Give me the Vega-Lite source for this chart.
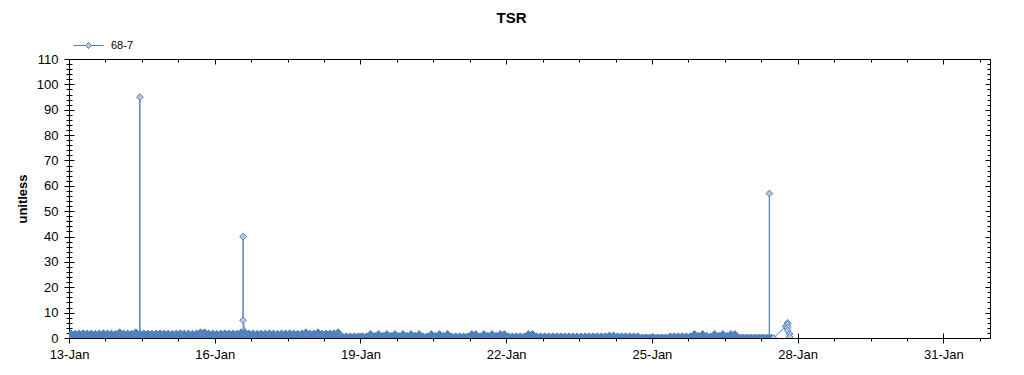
{
  "$schema": "https://vega.github.io/schema/vega-lite/v6.json",
  "autosize": {"type": "none"},
  "width": 921,
  "height": 279,
  "padding": {"left": 69, "top": 59, "right": 34, "bottom": 37},
  "background": "white",
  "title": {"text": "TSR", "font": "Liberation Sans", "fontSize": 15, "fontWeight": "bold", "color": "black", "anchor": "middle", "dx": -18, "offset": 4},
  "config": {
    "view": {"stroke": "black", "strokeWidth": 1},
    "axis": {"domainColor": "black", "tickColor": "black", "labelColor": "black", "grid": false, "labelFont": "Liberation Sans", "labelFontSize": 13, "domainWidth": 1, "tickWidth": 1}
  },
  "data": {
    "format": {"parse": {"t": "utc:'%d %H'"}},
    "values": [
{"t":"13 00","v":0.1},{"t":"13 01","v":1.8},{"t":"13 02","v":0.1},{"t":"13 03","v":1.7},{"t":"13 04","v":0.2},{"t":"13 05","v":1.8},{"t":"13 06","v":0.1},{"t":"13 07","v":1.9},{"t":"13 08","v":0.1},{"t":"13 09","v":1.8},{"t":"13 10","v":0.1},{"t":"13 11","v":1.8},{"t":"13 12","v":0.2},{"t":"13 13","v":1.7},{"t":"13 14","v":0.1},{"t":"13 15","v":1.8},{"t":"13 16","v":0.1},{"t":"13 17","v":1.9},{"t":"13 18","v":0.1},{"t":"13 19","v":1.8},{"t":"13 20","v":0.1},{"t":"13 21","v":1.8},{"t":"13 22","v":0.2},{"t":"13 23","v":1.7},
{"t":"14 00","v":0.1},{"t":"14 01","v":2.3},{"t":"14 02","v":0.1},{"t":"14 03","v":1.8},{"t":"14 04","v":0.1},{"t":"14 05","v":1.8},{"t":"14 06","v":0.2},{"t":"14 07","v":1.7},{"t":"14 08","v":0.1},{"t":"14 09","v":2.3},{"t":"14 10","v":0.1},{"t":"14 11","v":1.8},{"t":"14 11","v":95},{"t":"14 11","v":0.1},{"t":"14 12","v":0.1},{"t":"14 13","v":1.8},{"t":"14 14","v":0.2},{"t":"14 15","v":1.8},{"t":"14 16","v":0.1},{"t":"14 17","v":1.7},{"t":"14 18","v":0.1},{"t":"14 19","v":1.8},{"t":"14 20","v":0.1},{"t":"14 21","v":1.9},{"t":"14 22","v":0.1},{"t":"14 23","v":1.8},
{"t":"15 00","v":0.1},{"t":"15 01","v":1.8},{"t":"15 02","v":0.2},{"t":"15 03","v":1.7},{"t":"15 04","v":0.1},{"t":"15 05","v":1.8},{"t":"15 06","v":0.1},{"t":"15 07","v":1.9},{"t":"15 08","v":0.1},{"t":"15 09","v":1.8},{"t":"15 10","v":0.2},{"t":"15 11","v":1.8},{"t":"15 12","v":0.1},{"t":"15 13","v":1.7},{"t":"15 14","v":0.1},{"t":"15 15","v":1.8},{"t":"15 16","v":0.1},{"t":"15 17","v":2.3},{"t":"15 18","v":0.1},{"t":"15 19","v":2.3},{"t":"15 20","v":0.2},{"t":"15 21","v":1.8},{"t":"15 22","v":0.1},{"t":"15 23","v":1.8},
{"t":"16 00","v":0.1},{"t":"16 01","v":1.7},{"t":"16 02","v":0.1},{"t":"16 03","v":1.8},{"t":"16 04","v":0.2},{"t":"16 05","v":1.9},{"t":"16 06","v":0.1},{"t":"16 07","v":1.8},{"t":"16 08","v":0.1},{"t":"16 09","v":1.8},{"t":"16 10","v":0.1},{"t":"16 11","v":1.7},{"t":"16 12","v":0.2},{"t":"16 13","v":2.3},{"t":"16 14","v":0.1},{"t":"16 14","v":40},{"t":"16 14","v":7},{"t":"16 15","v":2.3},{"t":"16 16","v":0.1},{"t":"16 17","v":1.8},{"t":"16 18","v":0.1},{"t":"16 19","v":1.8},{"t":"16 20","v":0.2},{"t":"16 21","v":1.7},{"t":"16 22","v":0.1},{"t":"16 23","v":1.8},
{"t":"17 00","v":0.1},{"t":"17 01","v":1.8},{"t":"17 02","v":0.1},{"t":"17 03","v":1.9},{"t":"17 04","v":0.1},{"t":"17 05","v":1.8},{"t":"17 06","v":0.2},{"t":"17 07","v":1.7},{"t":"17 08","v":0.1},{"t":"17 09","v":1.8},{"t":"17 10","v":0.1},{"t":"17 11","v":1.8},{"t":"17 12","v":0.1},{"t":"17 13","v":1.9},{"t":"17 14","v":0.2},{"t":"17 15","v":1.8},{"t":"17 16","v":0.1},{"t":"17 17","v":1.7},{"t":"17 18","v":0.1},{"t":"17 19","v":1.8},{"t":"17 20","v":0.1},{"t":"17 21","v":2.3},{"t":"17 22","v":0.1},{"t":"17 23","v":1.8},
{"t":"18 00","v":0.2},{"t":"18 01","v":1.8},{"t":"18 02","v":0.1},{"t":"18 03","v":2.3},{"t":"18 04","v":0.1},{"t":"18 05","v":1.7},{"t":"18 06","v":0.1},{"t":"18 07","v":1.8},{"t":"18 08","v":0.2},{"t":"18 09","v":1.8},{"t":"18 10","v":0.1},{"t":"18 11","v":1.9},{"t":"18 12","v":0.1},{"t":"18 13","v":2.3},{"t":"18 14","v":0.1},{"t":"18 15","v":0.7},{"t":"18 16","v":0.1},{"t":"18 17","v":0.7},{"t":"18 18","v":0.1},{"t":"18 19","v":0.7},{"t":"18 20","v":0.1},{"t":"18 21","v":0.7},{"t":"18 22","v":0.1},{"t":"18 23","v":0.7},
{"t":"19 00","v":0.1},{"t":"19 01","v":0.7},{"t":"19 02","v":0.1},{"t":"19 03","v":0.7},{"t":"19 04","v":0.1},{"t":"19 05","v":1.6},{"t":"19 06","v":0.1},{"t":"19 07","v":0.9},{"t":"19 08","v":0.1},{"t":"19 09","v":1.6},{"t":"19 10","v":0.1},{"t":"19 11","v":0.9},{"t":"19 12","v":0.1},{"t":"19 13","v":1.6},{"t":"19 14","v":0.1},{"t":"19 15","v":0.9},{"t":"19 16","v":0.1},{"t":"19 17","v":1.6},{"t":"19 18","v":0.1},{"t":"19 19","v":0.9},{"t":"19 20","v":0.1},{"t":"19 21","v":1.6},{"t":"19 22","v":0.1},{"t":"19 23","v":0.9},
{"t":"20 00","v":0.1},{"t":"20 01","v":1.6},{"t":"20 02","v":0.1},{"t":"20 03","v":0.9},{"t":"20 04","v":0.1},{"t":"20 05","v":1.6},{"t":"20 06","v":0.1},{"t":"20 07","v":0.7},{"t":"20 08","v":0.1},{"t":"20 09","v":0.7},{"t":"20 10","v":0.1},{"t":"20 11","v":1.6},{"t":"20 12","v":0.1},{"t":"20 13","v":0.9},{"t":"20 14","v":0.1},{"t":"20 15","v":1.6},{"t":"20 16","v":0.1},{"t":"20 17","v":0.9},{"t":"20 18","v":0.1},{"t":"20 19","v":1.6},{"t":"20 20","v":0.1},{"t":"20 21","v":0.7},{"t":"20 22","v":0.1},{"t":"20 23","v":0.7},
{"t":"21 00","v":0.1},{"t":"21 01","v":0.7},{"t":"21 02","v":0.1},{"t":"21 03","v":0.7},{"t":"21 04","v":0.1},{"t":"21 05","v":0.7},{"t":"21 06","v":0.1},{"t":"21 07","v":1.6},{"t":"21 08","v":0.1},{"t":"21 09","v":1.6},{"t":"21 10","v":0.1},{"t":"21 11","v":0.7},{"t":"21 12","v":0.1},{"t":"21 13","v":1.6},{"t":"21 14","v":0.1},{"t":"21 15","v":0.9},{"t":"21 16","v":0.1},{"t":"21 17","v":1.6},{"t":"21 18","v":0.1},{"t":"21 19","v":0.9},{"t":"21 20","v":0.1},{"t":"21 21","v":1.6},{"t":"21 22","v":0.1},{"t":"21 23","v":1.6},
{"t":"22 00","v":0.1},{"t":"22 01","v":0.7},{"t":"22 02","v":0.1},{"t":"22 03","v":0.7},{"t":"22 04","v":0.1},{"t":"22 05","v":0.7},{"t":"22 06","v":0.1},{"t":"22 07","v":0.7},{"t":"22 08","v":0.1},{"t":"22 09","v":0.7},{"t":"22 10","v":0.1},{"t":"22 11","v":1.6},{"t":"22 12","v":0.1},{"t":"22 13","v":1.6},{"t":"22 14","v":0.1},{"t":"22 15","v":0.7},{"t":"22 16","v":0.1},{"t":"22 17","v":0.7},{"t":"22 18","v":0.1},{"t":"22 19","v":0.7},{"t":"22 20","v":0.1},{"t":"22 21","v":0.7},{"t":"22 22","v":0.1},{"t":"22 23","v":0.7},
{"t":"23 00","v":0.1},{"t":"23 01","v":0.7},{"t":"23 02","v":0.1},{"t":"23 03","v":0.7},{"t":"23 04","v":0.1},{"t":"23 05","v":0.7},{"t":"23 06","v":0.1},{"t":"23 07","v":0.7},{"t":"23 08","v":0.1},{"t":"23 09","v":0.7},{"t":"23 10","v":0.1},{"t":"23 11","v":0.7},{"t":"23 12","v":0.1},{"t":"23 13","v":0.7},{"t":"23 14","v":0.1},{"t":"23 15","v":0.7},{"t":"23 16","v":0.1},{"t":"23 17","v":0.7},{"t":"23 18","v":0.1},{"t":"23 19","v":0.7},{"t":"23 20","v":0.1},{"t":"23 21","v":0.7},{"t":"23 22","v":0.1},{"t":"23 23","v":0.7},
{"t":"24 00","v":0.1},{"t":"24 01","v":0.7},{"t":"24 02","v":0.1},{"t":"24 03","v":1.0},{"t":"24 04","v":0.1},{"t":"24 05","v":1.0},{"t":"24 06","v":0.1},{"t":"24 07","v":0.7},{"t":"24 08","v":0.1},{"t":"24 09","v":0.7},{"t":"24 10","v":0.1},{"t":"24 11","v":0.7},{"t":"24 12","v":0.1},{"t":"24 13","v":0.7},{"t":"24 14","v":0.1},{"t":"24 15","v":0.7},{"t":"24 16","v":0.1},{"t":"24 17","v":0.7},{"t":"24 18","v":0.1},{"t":"24 19","v":0.2},{"t":"24 20","v":0.1},{"t":"24 21","v":0.2},{"t":"24 22","v":0.1},{"t":"24 23","v":0.2},
{"t":"25 00","v":0.1},{"t":"25 01","v":0.2},{"t":"25 02","v":0.1},{"t":"25 03","v":0.2},{"t":"25 04","v":0.1},{"t":"25 05","v":0.2},{"t":"25 06","v":0.1},{"t":"25 07","v":0.2},{"t":"25 08","v":0.1},{"t":"25 09","v":0.7},{"t":"25 10","v":0.1},{"t":"25 11","v":0.7},{"t":"25 12","v":0.1},{"t":"25 13","v":0.7},{"t":"25 14","v":0.1},{"t":"25 15","v":0.7},{"t":"25 16","v":0.1},{"t":"25 17","v":0.7},{"t":"25 18","v":0.1},{"t":"25 19","v":0.7},{"t":"25 20","v":0.1},{"t":"25 21","v":1.6},{"t":"25 22","v":0.1},{"t":"25 23","v":0.9},
{"t":"26 00","v":0.1},{"t":"26 01","v":1.6},{"t":"26 02","v":0.1},{"t":"26 03","v":0.9},{"t":"26 04","v":0.1},{"t":"26 05","v":0.7},{"t":"26 06","v":0.1},{"t":"26 07","v":1.6},{"t":"26 08","v":0.1},{"t":"26 09","v":0.9},{"t":"26 10","v":0.1},{"t":"26 11","v":1.6},{"t":"26 12","v":0.1},{"t":"26 13","v":0.9},{"t":"26 14","v":0.1},{"t":"26 15","v":1.6},{"t":"26 16","v":0.1},{"t":"26 17","v":1.6},{"t":"26 18","v":0.1},{"t":"26 19","v":0.2},{"t":"26 20","v":0.1},{"t":"26 21","v":0.2},{"t":"26 22","v":0.1},{"t":"26 23","v":0.2},
{"t":"27 00","v":0.1},{"t":"27 01","v":0.2},{"t":"27 02","v":0.1},{"t":"27 03","v":0.2},{"t":"27 04","v":0.1},{"t":"27 05","v":0.2},{"t":"27 06","v":0.1},{"t":"27 07","v":0.2},{"t":"27 08","v":0.1},{"t":"27 09","v":0.2},{"t":"27 10","v":0.1},{"t":"27 10","v":57},{"t":"27 10","v":0.1},{"t":"27 11","v":0.2},{"t":"27 12","v":0},
{"t":"27 18","v":4.6},{"t":"27 19","v":6.0},{"t":"27 19","v":5.3},{"t":"27 19","v":4.2},{"t":"27 19","v":3.0},{"t":"27 20","v":1.6},{"t":"27 20","v":0.4}
    ]
  },
  "encoding": {
    "x": {"field": "t", "type": "temporal", "scale": {"type": "utc", "nice": false, "domain": [{"year": 1900, "month": 1, "date": 13, "hours": 0, "utc": true}, {"year": 1900, "month": 1, "date": 31, "hours": 23, "utc": true}]}},
    "y": {"field": "v", "type": "quantitative", "scale": {"domain": [0, 110], "nice": false, "zero": true}},
    "color": {"datum": "68-7", "type": "nominal", "scale": {"range": ["#4F81BD"]},
      "legend": {"title": null, "orient": "none", "legendX": 4, "legendY": -29, "padding": 0,
        "symbolType": "M-1,0L-0.2,0M0.2,0L1,0M-0.2,0L0,-0.2L0.2,0L0,0.2Z", "symbolSize": 900, "symbolStrokeWidth": 1,
        "symbolStrokeColor": "#4F81BD", "symbolFillColor": "#B4C8DF", "symbolOpacity": 1,
        "labelFont": "Liberation Sans", "labelFontSize": 11, "labelColor": "black", "labelOffset": 7,
        "encode": {"symbols": {"update": {"fill": {"value": "#B4C8DF"}, "stroke": {"value": "#4F81BD"}, "strokeWidth": {"value": 1}, "opacity": {"value": 1}}}}}}
  },
  "resolve": {"axis": {"x": "independent", "y": "independent"}},
  "layer": [
    {
      "mark": {"type": "line", "strokeWidth": 1, "clip": true},
      "encoding": {
        "x": {"field": "t", "type": "temporal", "axis": {
          "orient": "bottom", "title": null, "format": "%d-%b", "labelOverlap": false, "labelFlush": false, "labelPadding": 5,
          "values": [
            {"year":1900,"month":1,"date":13,"hours":0,"utc":true},{"year":1900,"month":1,"date":13,"hours":18,"utc":true},{"year":1900,"month":1,"date":14,"hours":12,"utc":true},{"year":1900,"month":1,"date":15,"hours":6,"utc":true},
            {"year":1900,"month":1,"date":16,"hours":0,"utc":true},{"year":1900,"month":1,"date":16,"hours":18,"utc":true},{"year":1900,"month":1,"date":17,"hours":12,"utc":true},{"year":1900,"month":1,"date":18,"hours":6,"utc":true},
            {"year":1900,"month":1,"date":19,"hours":0,"utc":true},{"year":1900,"month":1,"date":19,"hours":18,"utc":true},{"year":1900,"month":1,"date":20,"hours":12,"utc":true},{"year":1900,"month":1,"date":21,"hours":6,"utc":true},
            {"year":1900,"month":1,"date":22,"hours":0,"utc":true},{"year":1900,"month":1,"date":22,"hours":18,"utc":true},{"year":1900,"month":1,"date":23,"hours":12,"utc":true},{"year":1900,"month":1,"date":24,"hours":6,"utc":true},
            {"year":1900,"month":1,"date":25,"hours":0,"utc":true},{"year":1900,"month":1,"date":25,"hours":18,"utc":true},{"year":1900,"month":1,"date":26,"hours":12,"utc":true},{"year":1900,"month":1,"date":27,"hours":6,"utc":true},
            {"year":1900,"month":1,"date":28,"hours":0,"utc":true},{"year":1900,"month":1,"date":28,"hours":18,"utc":true},{"year":1900,"month":1,"date":29,"hours":12,"utc":true},{"year":1900,"month":1,"date":30,"hours":6,"utc":true},
            {"year":1900,"month":1,"date":31,"hours":0,"utc":true},{"year":1900,"month":1,"date":31,"hours":18,"utc":true}
          ],
          "labelExpr": "(utchours(datum.value) == 0 && utcdate(datum.value) % 3 == 1) ? datum.label : ''",
          "tickSize": {"condition": {"test": "utchours(datum.value) == 0 && utcdate(datum.value) % 3 == 1", "value": 5}, "value": 3}
        }},
        "y": {"field": "v", "type": "quantitative", "axis": {
          "orient": "left", "title": "unitless", "titleFont": "Liberation Sans", "titleFontSize": 13, "titleFontWeight": "bold", "titleColor": "black", "titlePadding": 7,
          "values": [0,2,4,6,8,10,12,14,16,18,20,22,24,26,28,30,32,34,36,38,40,42,44,46,48,50,52,54,56,58,60,62,64,66,68,70,72,74,76,78,80,82,84,86,88,90,92,94,96,98,100,102,104,106,108,110],
          "labelExpr": "datum.value % 10 == 0 ? datum.label : ''", "labelPadding": 6, "labelOverlap": false, "labelFlush": false,
          "tickSize": {"condition": {"test": "datum.value % 10 == 0", "value": 5}, "value": 3}
        }}
      }
    },
    {
      "mark": {"type": "point", "shape": "diamond", "filled": false, "size": 45, "strokeWidth": 1, "opacity": 1, "fillOpacity": 1, "clip": true},
      "encoding": {
        "fill": {"condition": {"test": "datum.v > 2.5 || datum.t > utc(1900, 0, 27, 11)", "value": "#B4C8DF"}, "value": "#4F81BD"},
        "x": {"field": "t", "type": "temporal", "axis": {
          "orient": "top", "title": null, "labels": false,
          "values": [
            {"year":1900,"month":1,"date":13,"hours":0,"utc":true},{"year":1900,"month":1,"date":13,"hours":18,"utc":true},{"year":1900,"month":1,"date":14,"hours":12,"utc":true},{"year":1900,"month":1,"date":15,"hours":6,"utc":true},
            {"year":1900,"month":1,"date":16,"hours":0,"utc":true},{"year":1900,"month":1,"date":16,"hours":18,"utc":true},{"year":1900,"month":1,"date":17,"hours":12,"utc":true},{"year":1900,"month":1,"date":18,"hours":6,"utc":true},
            {"year":1900,"month":1,"date":19,"hours":0,"utc":true},{"year":1900,"month":1,"date":19,"hours":18,"utc":true},{"year":1900,"month":1,"date":20,"hours":12,"utc":true},{"year":1900,"month":1,"date":21,"hours":6,"utc":true},
            {"year":1900,"month":1,"date":22,"hours":0,"utc":true},{"year":1900,"month":1,"date":22,"hours":18,"utc":true},{"year":1900,"month":1,"date":23,"hours":12,"utc":true},{"year":1900,"month":1,"date":24,"hours":6,"utc":true},
            {"year":1900,"month":1,"date":25,"hours":0,"utc":true},{"year":1900,"month":1,"date":25,"hours":18,"utc":true},{"year":1900,"month":1,"date":26,"hours":12,"utc":true},{"year":1900,"month":1,"date":27,"hours":6,"utc":true},
            {"year":1900,"month":1,"date":28,"hours":0,"utc":true},{"year":1900,"month":1,"date":28,"hours":18,"utc":true},{"year":1900,"month":1,"date":29,"hours":12,"utc":true},{"year":1900,"month":1,"date":30,"hours":6,"utc":true},
            {"year":1900,"month":1,"date":31,"hours":0,"utc":true},{"year":1900,"month":1,"date":31,"hours":18,"utc":true}
          ],
          "tickSize": {"condition": {"test": "utchours(datum.value) == 0 && utcdate(datum.value) % 3 == 1", "value": -5}, "value": -3}
        }},
        "y": {"field": "v", "type": "quantitative", "axis": {
          "orient": "right", "title": null, "labels": false,
          "values": [0,2,4,6,8,10,12,14,16,18,20,22,24,26,28,30,32,34,36,38,40,42,44,46,48,50,52,54,56,58,60,62,64,66,68,70,72,74,76,78,80,82,84,86,88,90,92,94,96,98,100,102,104,106,108,110],
          "tickSize": {"condition": {"test": "datum.value % 10 == 0", "value": -5}, "value": -3}
        }}
      }
    },
    {
      "mark": {"type": "point", "opacity": 0, "size": 1},
      "encoding": {
        "x": {"field": "t", "type": "temporal", "axis": {
          "orient": "bottom", "title": null, "labels": false, "domain": false,
          "values": [
            {"year":1900,"month":1,"date":13,"hours":0,"utc":true},{"year":1900,"month":1,"date":16,"hours":0,"utc":true},{"year":1900,"month":1,"date":19,"hours":0,"utc":true},{"year":1900,"month":1,"date":22,"hours":0,"utc":true},
            {"year":1900,"month":1,"date":25,"hours":0,"utc":true},{"year":1900,"month":1,"date":28,"hours":0,"utc":true},{"year":1900,"month":1,"date":31,"hours":0,"utc":true}
          ],
          "tickSize": -5
        }},
        "y": {"field": "v", "type": "quantitative", "axis": {
          "orient": "left", "title": null, "labels": false, "domain": false,
          "values": [0,2,4,6,8,10,12,14,16,18,20,22,24,26,28,30,32,34,36,38,40,42,44,46,48,50,52,54,56,58,60,62,64,66,68,70,72,74,76,78,80,82,84,86,88,90,92,94,96,98,100,102,104,106,108,110],
          "tickSize": {"condition": {"test": "datum.value % 10 == 0", "value": -5}, "value": -3}
        }}
      }
    }
  ]
}
